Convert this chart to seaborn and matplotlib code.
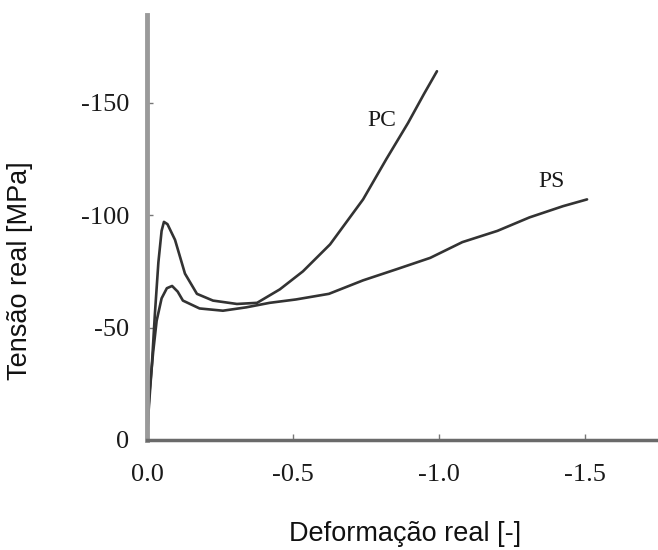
import numpy as np
import pandas as pd
import matplotlib
matplotlib.use('Agg')
import matplotlib.pyplot as plt
import seaborn as sns
from matplotlib.ticker import FixedLocator, FixedFormatter

# Curvas tensão-deformação reais (compressão -> valores negativos)
pc_strain = [0.0, -0.005, -0.017, -0.027, -0.039, -0.050, -0.058, -0.070, -0.096, -0.130,
             -0.171, -0.226, -0.308, -0.377, -0.455, -0.534, -0.627, -0.740, -0.820,
             -0.894, -0.949, -0.993]
pc_stress = [0, -12, -34, -56, -79, -93, -97, -96, -89, -74,
             -65, -62, -60.5, -61, -67, -75, -87, -107, -125,
             -141, -154, -164]

ps_strain = [0.0, -0.007, -0.021, -0.033, -0.050, -0.068, -0.086, -0.105, -0.123, -0.180,
             -0.260, -0.340, -0.420, -0.510, -0.623, -0.740, -0.856, -0.970, -1.080,
             -1.200, -1.310, -1.425, -1.507]
ps_stress = [0, -19, -39, -53, -63, -67.5, -68.5, -66, -62, -58.5,
             -57.5, -59, -61, -62.5, -65, -71, -76, -81, -88,
             -93, -99, -104, -107]

x_ticks = [0.0, -0.5, -1.0, -1.5]
x_ticklabels = ['0.0', '-0.5', '-1.0', '-1.5']
y_ticks = [0, -50, -100, -150]
y_ticklabels = ['0', '-50', '-100', '-150']

curve_labels = ['PC', 'PS']
label_pos = [(-0.805, -142), (-1.387, -115)]

df = pd.concat([
    pd.DataFrame({'Deformação': pc_strain, 'Tensão': pc_stress, 'Material': 'PC'}),
    pd.DataFrame({'Deformação': ps_strain, 'Tensão': ps_stress, 'Material': 'PS'}),
])

sns.set_style('ticks')
plt.rcParams['font.family'] = ['Liberation Sans', 'DejaVu Sans']
plt.rcParams['axes.unicode_minus'] = False

fig = plt.figure(figsize=(6.58, 5.5), dpi=100)
ax = fig.add_axes([0.2234, 0.2, 0.7766, 0.7727])

sns.lineplot(data=df, x='Deformação', y='Tensão', units='Material', estimator=None,
             sort=False, color='#333333', linewidth=1.9, ax=ax)

ax.set_xlim(0, -1.75)
ax.set_ylim(0, -189)

sns.despine(ax=ax)
ax.spines['left'].set_linewidth(3.5)
ax.spines['left'].set_color('#9a9a9a')
ax.spines['bottom'].set_linewidth(2.5)
ax.spines['bottom'].set_color('#6a6a6a')

ax.xaxis.set_major_locator(FixedLocator(x_ticks))
ax.xaxis.set_major_formatter(FixedFormatter(x_ticklabels))
ax.yaxis.set_major_locator(FixedLocator(y_ticks))
ax.yaxis.set_major_formatter(FixedFormatter(y_ticklabels))
ax.tick_params(axis='x', direction='in', length=4, width=1, color='#777777', pad=17)
ax.tick_params(axis='y', direction='in', length=4, width=1, color='#777777', pad=13)
for lab in ax.get_xticklabels() + ax.get_yticklabels():
    lab.set_family(['Liberation Serif', 'DejaVu Serif'])
    lab.set_fontsize(19)
    lab.set_color('#1a1a1a')

for txt, (x, y) in zip(curve_labels, label_pos):
    ax.text(x, y, txt, ha='center', va='center', fontsize=17,
            family=['Liberation Serif', 'DejaVu Serif'], color='#1a1a1a')

ax.set_xlabel('Deformação real [-]', fontsize=19.5, color='#111111')
ax.set_ylabel('Tensão real [MPa]', fontsize=19.5, color='#111111')
ax.xaxis.set_label_coords(0.505, -0.19)
ax.yaxis.set_label_coords(-0.223, 0.398)

fig.savefig('out.png', dpi=100)
